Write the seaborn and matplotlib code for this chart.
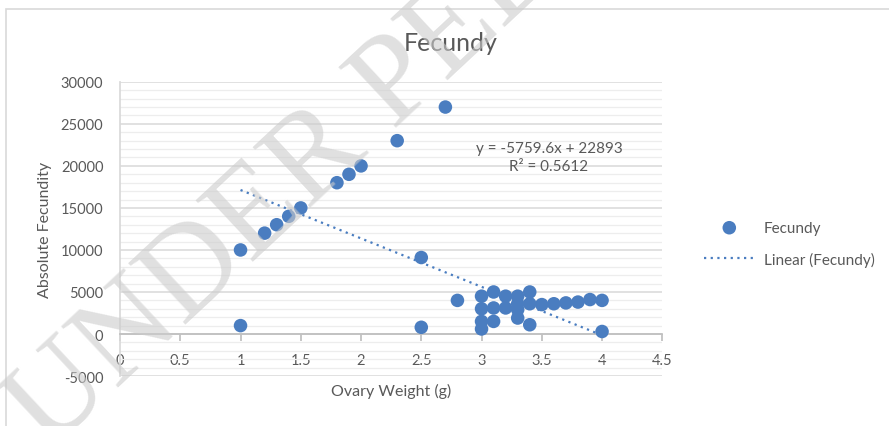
import numpy as np
import pandas as pd
import seaborn as sns
import matplotlib.pyplot as plt
from matplotlib.ticker import MultipleLocator
from matplotlib.patches import Rectangle

# data
ovary_weight = [1.0, 1.0, 1.2, 1.3, 1.4, 1.5, 1.8, 1.9, 2.0, 2.3, 2.5, 2.5, 2.7, 2.8,
                3.0, 3.0, 3.0, 3.0, 3.1, 3.1, 3.1, 3.2, 3.2,
                3.3, 3.3, 3.3, 3.3, 3.4, 3.4, 3.4,
                3.5, 3.6, 3.7, 3.8, 3.9, 4.0, 4.0]
fecundity = [10000, 1000, 12000, 13000, 14000, 15000, 18000, 19000, 20000, 23000, 9100, 800, 27000, 4000,
             4500, 3000, 1500, 600, 5000, 3100, 1500, 4500, 3100,
             4500, 3600, 2900, 1900, 5000, 3600, 1100,
             3500, 3600, 3700, 3800, 4100, 4000, 300]
slope = -5759.6
intercept = 22893
r2 = 0.5612

df = pd.DataFrame({'Ovary Weight (g)': ovary_weight, 'Absolute Fecundity': fecundity})
trend = pd.DataFrame({'x': [min(ovary_weight), max(ovary_weight)]})
trend['y'] = slope * trend['x'] + intercept

sns.set_theme(style='white')
plt.rcParams['font.family'] = ['Lato', 'DejaVu Sans']
plt.rcParams['axes.unicode_minus'] = False

blue = '#4a7dc0'
txt = '#595959'

fig = plt.figure(figsize=(8.89, 4.27), dpi=100)
ax = fig.add_axes([0.135, 0.117, 0.610, 0.689])

sns.scatterplot(data=df, x='Ovary Weight (g)', y='Absolute Fecundity', ax=ax,
                color=blue, s=95, edgecolor='none', label='Fecundy', zorder=4)
sns.lineplot(data=trend, x='x', y='y', ax=ax, color=blue, linewidth=1.6,
             linestyle=(0, (1, 2)), label='Linear (Fecundy)', zorder=3)

ax.set_xlim(0, 4.5)
ax.set_ylim(-5000, 30000)
ax.yaxis.set_major_locator(MultipleLocator(5000))
ax.yaxis.set_minor_locator(MultipleLocator(1000))
ax.set_xticks(np.arange(0, 4.51, 0.5))
ax.set_xticklabels(['0', '0.5', '1', '1.5', '2', '2.5', '3', '3.5', '4', '4.5'])

ax.grid(axis='y', which='major', color='#d9d9d9', linewidth=1.1)
ax.grid(axis='y', which='minor', color='#ededed', linewidth=0.9)
ax.grid(axis='x', visible=False)
ax.set_axisbelow(True)

for s in ['top', 'right']:
    ax.spines[s].set_visible(False)
ax.spines['bottom'].set_position(('data', 0))
ax.spines['bottom'].set_color('#bfbfbf')
ax.spines['left'].set_color('#d9d9d9')
ax.tick_params(axis='x', which='major', direction='out', length=5, color='#bfbfbf',
               labelsize=10.5, labelcolor=txt, pad=9, bottom=True)
ax.tick_params(axis='y', which='both', length=0, labelsize=10.5, labelcolor=txt, pad=12)

ax.set_xlabel('Ovary Weight (g)', fontsize=11.5, color=txt)
ax.set_ylabel('Absolute Fecundity', fontsize=11.5, color=txt, labelpad=6)
ax.xaxis.set_label_coords(0.5, -0.025)

fig.text(0.507, 0.897, 'Fecundy', ha='center', va='center', fontsize=18, color=txt)

ax.text(3.56, 21100, f'y = {slope}x + {intercept}\nR² = {r2}', ha='center', va='center',
        fontsize=11, color=txt, linespacing=1.35)

leg = ax.legend(loc='center left', bbox_to_anchor=(0.792, 0.427), bbox_transform=fig.transFigure,
                frameon=False, fontsize=11, handlelength=3.3, handletextpad=0.6,
                labelspacing=1.1, borderpad=0, borderaxespad=0)
for t in leg.get_texts():
    t.set_color(txt)

# chart area border
fig.patches.append(Rectangle((6 / 889, -0.2), 1.2, 1.2 - 10 / 427, transform=fig.transFigure,
                             fill=False, edgecolor='#d9d9d9', linewidth=1.2))

# watermark
fig.text(0.055, -0.06, 'UNDER PEER REVIEW', rotation=43, rotation_mode='anchor',
         ha='left', va='baseline', fontsize=92, family='Liberation Serif',
         color='#cccccc', alpha=0.6, zorder=10)

fig.savefig('out.png', dpi=100)
